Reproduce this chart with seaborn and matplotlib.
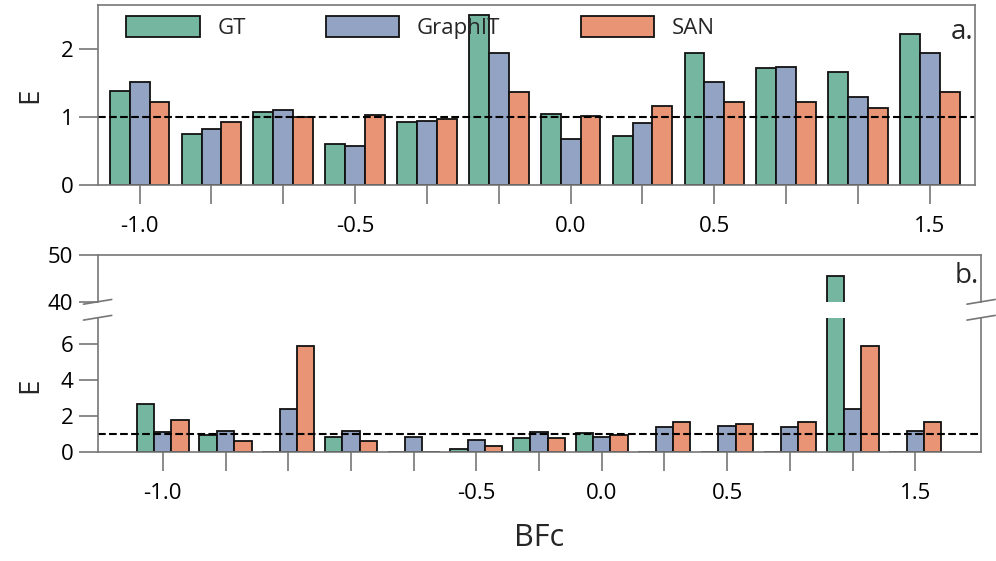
import matplotlib
matplotlib.use("Agg")
import matplotlib.pyplot as plt
import numpy as np
import pandas as pd
import seaborn as sns

methods = ["GT", "GraphIT", "SAN"]
colors = ["#74b69f", "#93a3c3", "#e99474"]

# panel a: 12 groups
gt_a = [1.38, 0.75, 1.07, 0.60, 0.93, 2.50, 1.04, 0.72, 1.95, 1.72, 1.67, 2.22]
graphit_a = [1.52, 0.83, 1.10, 0.57, 0.95, 1.95, 0.68, 0.92, 1.52, 1.74, 1.30, 1.95]
san_a = [1.22, 0.93, 1.00, 1.03, 0.97, 1.37, 1.01, 1.17, 1.22, 1.22, 1.14, 1.37]
labels_a = ["-1.0", "", "", "-0.5", "", "", "0.0", "", "0.5", "", "", "1.5"]

# panel b: 13 groups
gt_b = [2.7, 0.95, 0.0, 0.85, 0.0, 0.2, 0.8, 1.05, 0.0, 0.0, 0.0, 45.5, 0.0]
graphit_b = [1.1, 1.15, 2.4, 1.2, 0.85, 0.7, 1.1, 0.85, 1.4, 1.45, 1.4, 2.4, 1.2]
san_b = [1.8, 0.6, 5.9, 0.6, 0.0, 0.35, 0.8, 0.95, 1.7, 1.55, 1.7, 5.9, 1.7]
labels_b = ["-1.0", "", "", "", "", "-0.5", "", "0.0", "", "0.5", "", "", "1.5"]


def long_df(gt, gi, san):
    n = len(gt)
    return pd.DataFrame({
        "group": list(range(n)) * 3,
        "method": np.repeat(methods, n),
        "E": list(gt) + list(gi) + list(san),
    })


df_a = long_df(gt_a, graphit_a, san_a)
df_b = long_df(gt_b, graphit_b, san_b)

sns.set_style("ticks")
plt.rcParams["font.family"] = ["Open Sans", "DejaVu Sans"]

fig = plt.figure(figsize=(9.96, 5.61), dpi=100)
ax_a = fig.add_axes([0.098, 0.670, 0.881, 0.321])
ax_hi = fig.add_axes([0.098, 0.462, 0.887, 0.084])
ax_lo = fig.add_axes([0.098, 0.194, 0.887, 0.239])

bar_kw = dict(x="group", y="E", hue="method", palette=colors, width=0.83,
              edgecolor="#111111", linewidth=1.3, saturation=1, native_scale=True)

sns.barplot(data=df_a, ax=ax_a, **bar_kw)
sns.barplot(data=df_b, ax=ax_lo, legend=False, **bar_kw)
sns.barplot(data=df_b, ax=ax_hi, legend=False, **bar_kw)

spine_col = "#777777"
for ax in (ax_a, ax_hi, ax_lo):
    for s in ax.spines.values():
        s.set_color(spine_col)
        s.set_linewidth(1.2)
    ax.tick_params(axis="both", colors=spine_col, labelcolor="black",
                   labelsize=16, length=14, width=1.2)
    ax.set_xlabel("")
    ax.set_ylabel("")

# panel a
ax_a.set_xlim(-0.585, 11.63)
ax_a.set_ylim(0, 2.65)
ax_a.set_yticks([0, 1, 2])
ax_a.set_xticks(range(len(gt_a)))
ax_a.set_xticklabels(labels_a)
ax_a.tick_params(axis="x", length=14, pad=8)
ax_a.axhline(1, color="black", ls="--", lw=1.5)
ax_a.set_ylabel("E", fontsize=20, labelpad=12)
ax_a.text(0.998, 0.93, "a.", transform=ax_a.transAxes, ha="right", va="top", fontsize=20)
h, l = ax_a.get_legend_handles_labels()
ax_a.legend(h, l, loc="upper left", bbox_to_anchor=(0.01, 1.05), ncol=3, frameon=False,
            fontsize=16, handlelength=3.3, handleheight=1.1, columnspacing=3.6)

# panel b
for ax in (ax_hi, ax_lo):
    ax.set_xlim(-1.04, 13.05)
ax_hi.set_ylim(40, 50)
ax_hi.set_yticks([40, 50])
ax_hi.spines["bottom"].set_visible(False)
ax_hi.tick_params(axis="x", bottom=False, labelbottom=False)
ax_hi.text(0.998, 0.85, "b.", transform=ax_hi.transAxes, ha="right", va="top", fontsize=20)

ax_lo.set_ylim(0, 7.44)
ax_lo.set_yticks([0, 2, 4, 6])
ax_lo.spines["top"].set_visible(False)
ax_lo.set_xticks(range(len(gt_b)))
ax_lo.set_xticklabels(labels_b)
ax_lo.tick_params(axis="x", length=14, pad=8)
ax_lo.axhline(1, color="black", ls="--", lw=1.5)
ax_lo.set_ylabel("E", fontsize=20, labelpad=12)
ax_lo.set_xlabel("BFc", fontsize=22, labelpad=14)

# break marks
d = 0.016
kw = dict(color=spine_col, lw=1.2, clip_on=False)
for xx in (0, 1):
    ax_hi.plot([xx - d, xx + d], [-0.05, 0.05], transform=ax_hi.transAxes, **kw)
    ax_lo.plot([xx - d, xx + d], [0.985, 1.02], transform=ax_lo.transAxes, **kw)

fig.savefig("out.png", dpi=100)
